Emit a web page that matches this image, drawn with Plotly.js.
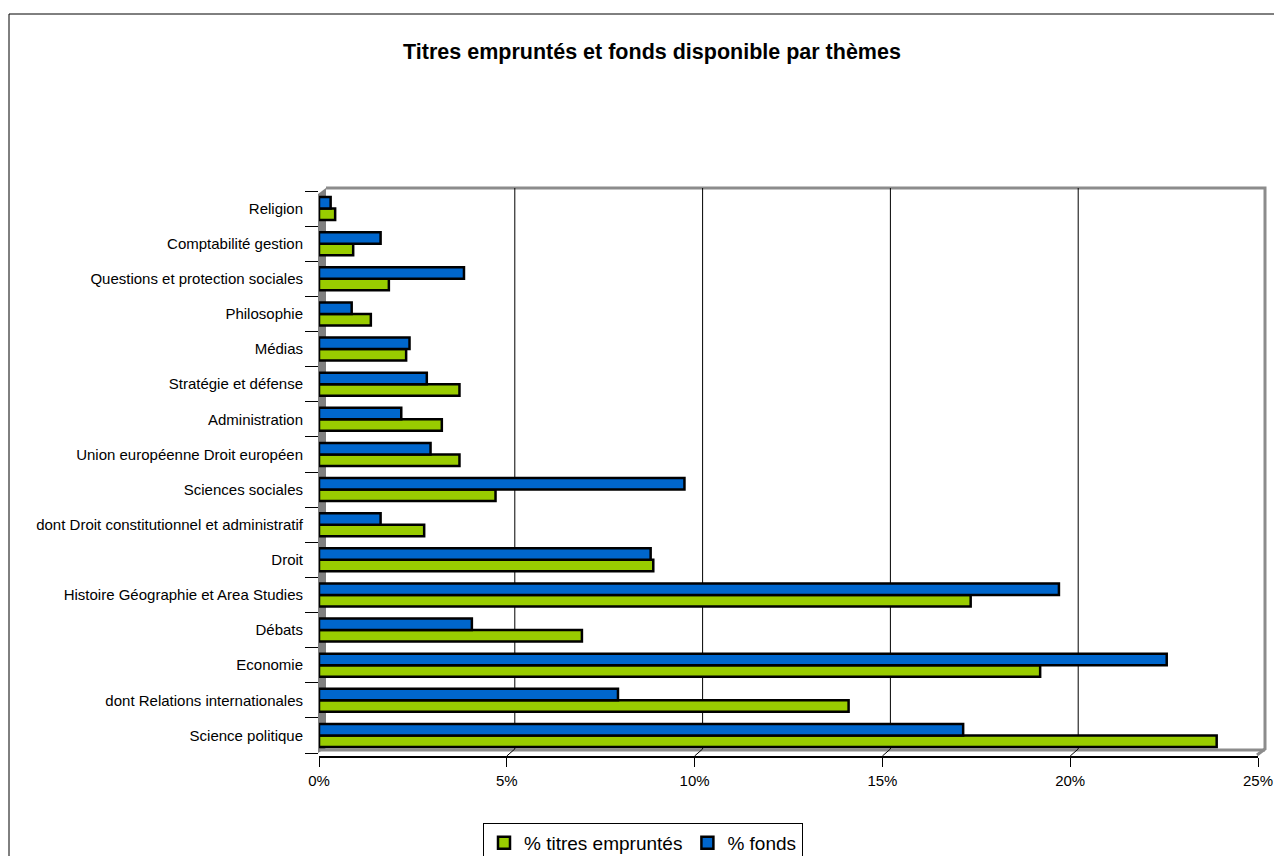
<!DOCTYPE html>
<html>
<head>
<meta charset="utf-8">
<script src="https://cdn.plot.ly/plotly-3.0.1.min.js"></script>
<style>html,body{margin:0;padding:0;background:#fff;}#chart{width:1274px;height:856px;}</style>
</head>
<body>
<div id="chart"></div>
<script>
// Categories listed bottom to top
const categories = [
  "Science politique",
  "dont Relations internationales",
  "Economie",
  "Débats",
  "Histoire Géographie et Area Studies",
  "Droit",
  "dont Droit constitutionnel et administratif",
  "Sciences sociales",
  "Union européenne Droit européen",
  "Administration",
  "Stratégie et défense",
  "Médias",
  "Philosophie",
  "Questions et protection sociales",
  "Comptabilité gestion",
  "Religion"
];
const titresEmpruntes = [23.9, 14.1, 19.2, 7.0, 17.35, 8.9, 2.8, 4.7, 3.74, 3.27, 3.74, 2.32, 1.38, 1.86, 0.91, 0.43];
const fonds           = [17.15, 7.96, 22.57, 4.07, 19.7, 8.83, 1.64, 9.73, 2.97, 2.19, 2.87, 2.41, 0.87, 3.86, 1.64, 0.31];
const seriesNames = ["% titres empruntés", "% fonds"];
const xTicks = [0, 5, 10, 15, 20, 25];
const xTickLabels = ["0%", "5%", "10%", "15%", "20%", "25%"];
const gridTicks = [5, 10, 15, 20];

const W = 1274, H = 856;
const L = 319, R = 1258, T = 191, B = 756;
const pw = R - L, ph = B - T;
const px = v => (v - L) / pw;
const py = v => (B - v) / ph;

const font = "Liberation Sans, Arial, Helvetica, sans-serif";

const traces = [
  {type: "bar", orientation: "h", name: seriesNames[0], y: categories, x: titresEmpruntes,
   marker: {color: "#99CC00", line: {color: "#000000", width: 2.5}}},
  {type: "bar", orientation: "h", name: seriesNames[1], y: categories, x: fonds,
   marker: {color: "#0066CC", line: {color: "#000000", width: 2.5}}}
];

const shapes = [];
// outer chart border
shapes.push({type: "rect", xref: "paper", yref: "paper", x0: px(9), x1: px(1300), y0: py(880), y1: py(14),
  line: {color: "#000", width: 1}, fillcolor: "rgba(0,0,0,0)", layer: "below"});
// back wall (left)
shapes.push({type: "path", xref: "paper", yref: "paper",
  path: `M ${px(318)} ${py(753)} L ${px(318)} ${py(194)} L ${px(326)} ${py(188)} L ${px(326)} ${py(748)} Z`,
  fillcolor: "#808080", line: {width: 0}, layer: "below"});
// top and right edges of back plane
shapes.push({type: "path", xref: "paper", yref: "paper",
  path: `M ${px(326)} ${py(188)} L ${px(1265)} ${py(188)} L ${px(1265)} ${py(749)} L ${px(1257)} ${py(755)}`,
  line: {color: "#8c8c8c", width: 3}, layer: "below"});
// floor
shapes.push({type: "path", xref: "paper", yref: "paper",
  path: `M ${px(320)} ${py(750)} L ${px(1265)} ${py(750)}`,
  line: {color: "#8c8c8c", width: 3}, layer: "below"});
// gridlines on back plane + connectors
gridTicks.forEach(v => {
  shapes.push({type: "line", xref: "x", xsizemode: "pixel", xanchor: v, x0: 8, x1: 8,
    yref: "paper", y0: py(749), y1: py(188), line: {color: "#000", width: 1}, layer: "below"});
  shapes.push({type: "line", xref: "x", xsizemode: "pixel", xanchor: v, x0: 0, x1: 8,
    yref: "paper", y0: py(756), y1: py(749), line: {color: "#000", width: 1}, layer: "below"});
});

const layout = {
  width: W, height: H,
  margin: {l: L, r: W - R, t: T, b: H - B, pad: 0, autoexpand: false},
  paper_bgcolor: "#ffffff", plot_bgcolor: "rgba(0,0,0,0)",
  font: {family: font, color: "#000", size: 15},
  title: {text: "<b>Titres empruntés et fonds disponible par thèmes</b>",
    font: {family: font, size: 21.5, color: "#000"},
    xref: "container", x: 652 / W, xanchor: "center", yref: "container", y: 1 - 51 / H, yanchor: "middle"},
  barmode: "group", bargap: 0.345, bargroupgap: 0,
  xaxis: {range: [0, 25], tickmode: "array", tickvals: xTicks, ticktext: xTickLabels, showgrid: false, zeroline: false,
    showline: true, linecolor: "#000", linewidth: 1.5, ticks: "outside", ticklen: 9, tickcolor: "#000",
    tickwidth: 1, tickfont: {family: font, size: 15}, ticklabelstandoff: 1, fixedrange: true, automargin: false},
  yaxis: {type: "category", categoryorder: "array", categoryarray: categories,
    range: [-0.585, 15.5], showgrid: false, zeroline: false, showline: false,
    ticks: "outside", tickson: "boundaries", ticklen: 13, tickcolor: "#000", tickwidth: 1,
    tickfont: {family: font, size: 15}, ticklabelstandoff: 15, fixedrange: true, automargin: false},
  showlegend: true,
  legend: {orientation: "h", x: px(483), xanchor: "left", y: py(823), yanchor: "top",
    bgcolor: "#fff", bordercolor: "#000", borderwidth: 1, font: {family: font, size: 19},
    traceorder: "normal", itemwidth: 30, tracegroupgap: 0},
  shapes: shapes
};

Plotly.newPlot("chart", traces, layout, {staticPlot: true, displayModeBar: false});
</script>
</body>
</html>
